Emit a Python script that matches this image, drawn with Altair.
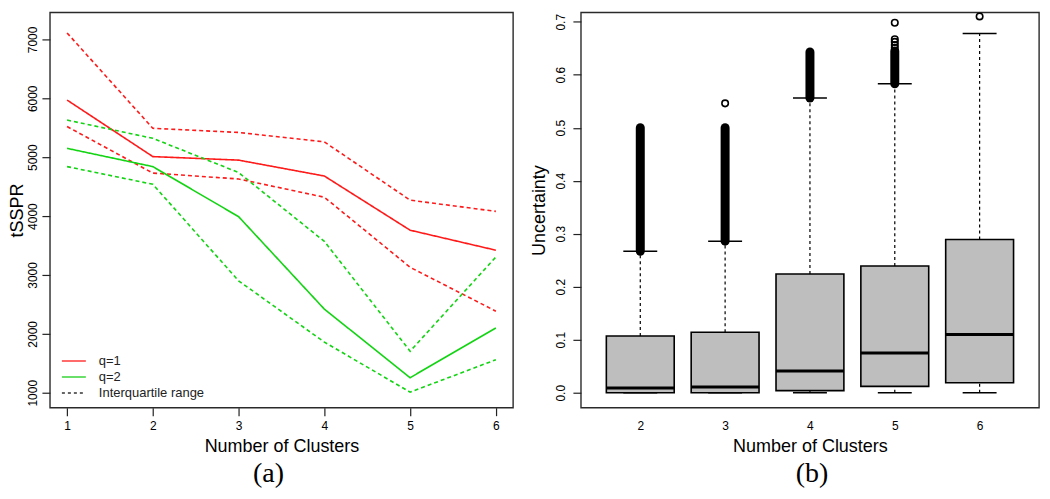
import altair as alt
import pandas as pd

# ---------------- data ----------------
clusters_a = [1, 2, 3, 4, 5, 6]
q1_median = [5970, 5010, 4950, 4680, 3760, 3420]
q1_upper = [7110, 5490, 5420, 5260, 4270, 4080]
q1_lower = [5520, 4730, 4630, 4320, 3130, 2385]
q2_median = [5150, 4840, 3990, 2420, 1255, 2100]
q2_upper = [5630, 5320, 4740, 3570, 1705, 3305]
q2_lower = [4840, 4540, 2900, 1860, 1010, 1560]
legend_labels = ["q=1", "q=2", "Interquartile range"]

clusters_b = [2, 3, 4, 5, 6]
whisker_low = [0.0, 0.0, 0.0, 0.0, 0.0]
box_q1 = [0.0, 0.0, 0.004, 0.012, 0.019]
box_median = [0.009, 0.011, 0.041, 0.075, 0.110]
box_q3 = [0.107, 0.114, 0.224, 0.239, 0.289]
whisker_high = [0.267, 0.286, 0.556, 0.583, 0.678]
# dense runs of outliers (drawn as stacked circles)
dense_clusters = [2, 3, 4, 5]
dense_low = [0.267, 0.286, 0.556, 0.583]
dense_high = [0.500, 0.500, 0.643, 0.645]
# isolated outliers
outlier_clusters = [3, 5, 5, 5, 5, 5, 6]
outlier_values = [0.546, 0.651, 0.656, 0.662, 0.667, 0.698, 0.710]

# ---------------- styling ----------------
FONT = "Liberation Sans"
SERIF = "Liberation Serif"
RED = "#FF1A1A"
GREEN = "#12D412"
DASH = [4, 3]

# ---------------- panel (a) ----------------
rows = []
for series, kind, vals in [
    ("q=1", "median", q1_median), ("q=1", "upper", q1_upper), ("q=1", "lower", q1_lower),
    ("q=2", "median", q2_median), ("q=2", "upper", q2_upper), ("q=2", "lower", q2_lower),
]:
    for c, v in zip(clusters_a, vals):
        rows.append({"series": series, "kind": kind,
                     "style": "solid" if kind == "median" else "dashed",
                     "line": series + kind, "cluster": c, "value": v})
df_a = pd.DataFrame(rows)

xa = alt.X("cluster:Q",
           scale=alt.Scale(domain=[0.8, 6.2], nice=False, zero=False),
           axis=alt.Axis(values=clusters_a, format="d", title="Number of Clusters",
                         tickSize=8, labelPadding=5, titlePadding=6))
ya = alt.Y("value:Q",
           scale=alt.Scale(domain=[745.8, 7457.6], nice=False, zero=False),
           axis=alt.Axis(values=[1000, 2000, 3000, 4000, 5000, 6000, 7000], format="d",
                         title="tSSPR", tickSize=8, labelPadding=5, titlePadding=0,
                         labelAngle=270, labelAlign="center", labelBaseline="alphabetic"))

lines = alt.Chart(df_a).mark_line(strokeWidth=1.6).encode(
    x=xa, y=ya,
    color=alt.Color("series:N", scale=alt.Scale(domain=["q=1", "q=2"], range=[RED, GREEN]), legend=None),
    strokeDash=alt.StrokeDash("style:N", scale=alt.Scale(domain=["solid", "dashed"], range=[[1, 0], DASH]),
                              legend=None),
    detail="line:N",
)

legend_layers = []
legend_colors = ["#FF6A6A", "#6AE06A", "#666666"]
legend_dashes = [[1, 0], [1, 0], [3, 3]]
legend_rows_y = [349.3, 365.3, 381.3]
for lab, col, dsh, yy in zip(legend_labels, legend_colors, legend_dashes, legend_rows_y):
    d = pd.DataFrame({"label": [lab]})
    legend_layers.append(alt.Chart(d).mark_rule(color=col, strokeWidth=2, strokeDash=dsh).encode(
        x=alt.value(12), x2=alt.value(36), y=alt.value(yy)))
    legend_layers.append(alt.Chart(d).mark_text(align="left", baseline="middle", font=FONT,
                                                fontSize=13, color="#222222").encode(
        x=alt.value(49), y=alt.value(yy), text="label:N"))

panel_a = alt.layer(lines, *legend_layers).properties(
    width=464, height=396,
    title=alt.TitleParams("(a)", orient="bottom", font=SERIF, fontSize=28, fontWeight="normal",
                          color="black", offset=4, anchor="middle", dx=-13),
)

# ---------------- panel (b) ----------------
df_b = pd.DataFrame({"cluster": clusters_b, "lw": whisker_low, "q1": box_q1, "med": box_median,
                     "q3": box_q3, "uw": whisker_high})
df_dense = pd.DataFrame({"cluster": dense_clusters, "lo": dense_low, "hi": dense_high})
df_out = pd.DataFrame({"cluster": outlier_clusters, "value": outlier_values})

xs = alt.Scale(domain=[1.3, 6.7], nice=False, zero=False)
ys = alt.Scale(domain=[-0.0282, 0.7175], nice=False, zero=False)
xb_axis = alt.Axis(values=clusters_b, format="d", title="Number of Clusters",
                   ticks=False, tickSize=0, labelPadding=13, titlePadding=6)
yb_axis = alt.Axis(values=[0.0, 0.1, 0.2, 0.3, 0.4, 0.5, 0.6, 0.7], format=".1f", title="Uncertainty",
                   tickSize=8, labelPadding=8, titlePadding=6,
                   labelAngle=270, labelAlign="center", labelBaseline="alphabetic")

base_b = alt.Chart(df_b).transform_calculate(
    left="datum.cluster - 0.4", right="datum.cluster + 0.4",
    capl="datum.cluster - 0.2", capr="datum.cluster + 0.2")

w_up = base_b.mark_rule(color="black", strokeWidth=1.2, strokeDash=[3, 3]).encode(
    x=alt.X("cluster:Q", scale=xs, axis=xb_axis), y=alt.Y("q3:Q", scale=ys, axis=yb_axis), y2="uw:Q")
w_lo = base_b.mark_rule(color="black", strokeWidth=1.2, strokeDash=[3, 3]).encode(
    x=alt.X("cluster:Q", scale=xs), y=alt.Y("lw:Q", scale=ys), y2="q1:Q")
cap_up = base_b.mark_rule(color="black", strokeWidth=1.5).encode(
    x=alt.X("capl:Q", scale=xs), x2="capr:Q", y=alt.Y("uw:Q", scale=ys))
cap_lo = base_b.mark_rule(color="black", strokeWidth=1.5).encode(
    x=alt.X("capl:Q", scale=xs), x2="capr:Q", y=alt.Y("lw:Q", scale=ys))
boxes = base_b.mark_rect(fill="#BEBEBE", stroke="black", strokeWidth=1.6).encode(
    x=alt.X("left:Q", scale=xs), x2="right:Q", y=alt.Y("q1:Q", scale=ys), y2="q3:Q")
medians = base_b.mark_rule(color="black", strokeWidth=3).encode(
    x=alt.X("left:Q", scale=xs), x2="right:Q", y=alt.Y("med:Q", scale=ys))
dense = alt.Chart(df_dense).mark_rule(color="black", strokeWidth=9, strokeCap="round").encode(
    x=alt.X("cluster:Q", scale=xs), y=alt.Y("lo:Q", scale=ys), y2="hi:Q")
outl = alt.Chart(df_out).mark_point(shape="circle", filled=False, color="black", size=42,
                                    strokeWidth=1.6, opacity=1).encode(
    x=alt.X("cluster:Q", scale=xs), y=alt.Y("value:Q", scale=ys))

panel_b = alt.layer(w_up, w_lo, cap_up, cap_lo, boxes, medians, dense, outl).properties(
    width=459, height=396,
    title=alt.TitleParams("(b)", orient="bottom", font=SERIF, fontSize=28, fontWeight="normal",
                          color="black", offset=4, anchor="middle", dx=2),
)

chart = alt.hconcat(panel_a, panel_b, spacing=16).properties(
    padding={"left": 0, "top": 0, "right": 2, "bottom": 3}
).configure_view(
    stroke="#2a2a2a", strokeWidth=1.4
).configure_axis(
    labelFont=FONT, labelFontSize=12, labelColor="black",
    titleFont=FONT, titleFontSize=18, titleFontWeight="normal", titleColor="black",
    tickColor="#222222", tickWidth=1.2, grid=False, domain=False,
)

chart.save("out.html", embed_options={"renderer": "svg", "actions": False})
